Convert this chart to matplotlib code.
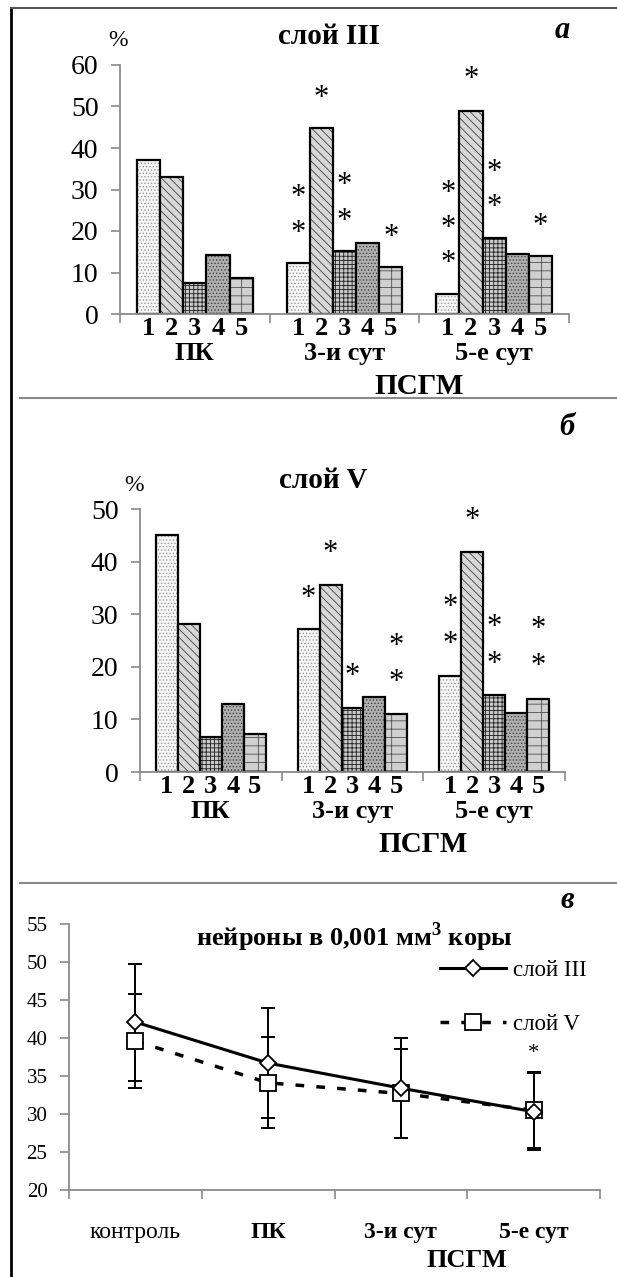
import numpy as np
import matplotlib
matplotlib.use('Agg')
import matplotlib.pyplot as plt
from matplotlib.lines import Line2D

plt.rcParams['font.family'] = ['Liberation Serif', 'DejaVu Serif']
plt.rcParams['mathtext.fontset'] = 'custom'
plt.rcParams['mathtext.bf'] = 'Liberation Serif:bold'
plt.rcParams['hatch.linewidth'] = 0.6

W, H = 617, 1277

# --- data ---
groups = ['ПК', '3-и сут', '5-е сут']
types = ['1', '2', '3', '4', '5']
layer3 = [[37.0, 33.0, 7.5, 14.3, 8.7],
          [12.2, 44.8, 15.1, 17.2, 11.3],
          [4.9, 49.0, 18.3, 14.5, 13.9]]
layer5 = [[45.1, 28.1, 6.7, 12.9, 7.3],
          [27.1, 35.6, 12.2, 14.2, 11.1],
          [18.3, 41.9, 14.6, 11.3, 13.9]]
# (group, bar, height of star)
stars3 = [(1, 0, 28.0), (1, 0, 19.5), (1, 1, 52.0), (1, 2, 30.9), (1, 2, 22.4), (1, 4, 18.5),
          (2, 0, 29.0), (2, 0, 20.5), (2, 0, 12.2), (2, 1, 56.5), (2, 2, 34.0), (2, 2, 25.6),
          (2, 4, 21.1)]
stars5 = [(1, 0, 32.9), (1, 1, 41.5), (1, 2, 18.2), (1, 4, 23.9), (1, 4, 17.0),
          (2, 0, 31.2), (2, 0, 24.2), (2, 1, 47.8), (2, 2, 27.4), (2, 2, 20.4),
          (2, 4, 27.1), (2, 4, 20.1)]

cats = ['контроль', 'ПК', '3-и сут', '5-е сут']
mean3 = [42.1, 36.7, 33.4, 30.3]
err3 = [7.7, 7.2, 6.6, 5.1]
mean5 = [39.6, 34.1, 32.7, 30.5]
err5 = [6.2, 6.0, 5.9, 5.0]
star_line = (3, 38.0)

# bar styles: (face, hatch colour, hatch)
styles = [('#f7f7f7', '#9a9a9a', '.....'),
          ('#d8d8d8', '#404040', '\\\\\\\\'),
          ('#c8c8c8', '#202020', '++++'),
          ('#b0b0b0', '#404040', '.....'),
          ('#d0d0d0', '#505050', '-|-')]

GRAY = '#8a8a8a'


def box(x0, y0, x1, y1):
    # pixel box -> figure rect
    return [x0 / W, 1 - y1 / H, (x1 - x0) / W, (y1 - y0) / H]


def ftext(x, y, s, **kw):
    fig.text(x / W, 1 - y / H, s, **kw)


def style_axis(ax):
    for s in ['top', 'right']:
        ax.spines[s].set_visible(False)
    for s in ['left', 'bottom']:
        ax.spines[s].set_color(GRAY)
        ax.spines[s].set_linewidth(1.3)
    ax.tick_params(axis='y', direction='out', length=6.5, width=1.2, color=GRAY, pad=9)
    ax.tick_params(axis='x', which='major', length=0)
    ax.tick_params(axis='x', which='minor', direction='out', length=6.5, width=1.2, color=GRAY)


def bar_panel(ax, data, stars, ymax, ystep):
    bw = 0.155
    for g, vals in enumerate(data):
        for i, v in enumerate(vals):
            x = g + 0.5 + (i - 2) * bw
            face, hc, hatch = styles[i]
            ax.bar(x, v, width=bw, color=face, edgecolor=hc, hatch=hatch, linewidth=0)
            ax.bar(x, v, width=bw, fill=False, edgecolor='black', linewidth=1.6)
    for g, i, y in stars:
        ax.text(g + 0.5 + (i - 2) * bw, y, '*', ha='center', va='center', fontsize=22)
    ax.set_xlim(0, 3)
    ax.set_ylim(0, ymax)
    ax.set_yticks(np.arange(0, ymax + 1, ystep))
    ax.tick_params(axis='y', labelsize=20)
    ax.set_xticks([g + 0.5 + (i - 2) * bw for g in range(3) for i in range(5)])
    ax.set_xticklabels(types * 3, fontsize=19, fontweight='bold')
    ax.set_xticks([0, 1, 2, 3], minor=True)
    style_axis(ax)
    ax.tick_params(axis='x', which='major', pad=2)
    for g, name in enumerate(groups):
        ax.annotate(name, xy=(g + 0.5, 0), xycoords=('data', 'axes fraction'),
                    xytext=(0, -28.5), textcoords='offset points', ha='center', va='center',
                    fontsize=19, fontweight='bold')
    ax.annotate('ПСГМ', xy=(2, 0), xycoords=('data', 'axes fraction'),
                xytext=(0, -52), textcoords='offset points', ha='center', va='center',
                fontsize=21, fontweight='bold')


fig = plt.figure(figsize=(W / 100, H / 100), dpi=100)

# frame lines
fig.add_artist(Line2D([11 / W, 11 / W], [0, 1 - 8 / H], color='black', lw=2))
fig.add_artist(Line2D([11 / W, 1], [1 - 8 / H, 1 - 8 / H], color='#555555', lw=1.5))
for yy in [398, 883]:
    fig.add_artist(Line2D([20 / W, 1], [1 - yy / H, 1 - yy / H], color=GRAY, lw=1.5))

# panel a
ax1 = fig.add_axes(box(120, 65, 569, 314))
bar_panel(ax1, layer3, stars3, 60, 10)
ftext(329, 36, 'слой III', ha='center', va='center', fontsize=21, fontweight='bold')
ftext(118, 40, '%', ha='center', va='center', fontsize=17)
ftext(562, 31, 'а', ha='center', va='center', fontsize=22, fontweight='bold', style='italic')

# panel b
ax2 = fig.add_axes(box(140, 509, 565, 772))
bar_panel(ax2, layer5, stars5, 50, 10)
ftext(323, 480, 'слой V', ha='center', va='center', fontsize=21, fontweight='bold')
ftext(134, 485, '%', ha='center', va='center', fontsize=17)
ftext(567, 428, 'б', ha='center', va='center', fontsize=22, fontweight='bold', style='italic')

# panel c
ax3 = fig.add_axes(box(69, 924, 600, 1190))
xs = np.arange(len(cats)) + 0.5
ax3.errorbar(xs, mean3, yerr=err3, fmt='none', capsize=5, elinewidth=1.4,
             capthick=1.4, ecolor='black', zorder=2)
ax3.errorbar(xs, mean5, yerr=err5, fmt='none', capsize=5, elinewidth=1.4,
             capthick=1.4, ecolor='black', zorder=2)
ax3.plot(xs, mean3, color='black', lw=2.2, marker='D', ms=8.5, mfc='white', mec='black',
         mew=1.3, label='слой III', zorder=4)
ax3.plot(xs, mean5, color='black', lw=2.5, ls=(0, (2.5, 3.5)), marker='s', ms=11,
         mfc='white', mec='black', mew=1.3, label='слой V', zorder=3)
ax3.text(xs[star_line[0]], star_line[1], '*', ha='center', va='center', fontsize=16)
ax3.set_xlim(0, 4)
ax3.set_ylim(20, 55)
ax3.set_yticks(np.arange(20, 56, 5))
ax3.tick_params(axis='y', labelsize=15)
ax3.set_xticks(xs)
ax3.set_xticklabels(cats, fontsize=17, fontweight='bold')
ax3.get_xticklabels()[0].set_fontweight('normal')
ax3.set_xticks([0, 1, 2, 3, 4], minor=True)
style_axis(ax3)
ax3.tick_params(axis='x', which='major', pad=23)
ax3.annotate('ПСГМ', xy=(3, 0), xycoords=('data', 'axes fraction'),
             xytext=(0, -51), textcoords='offset points', ha='center', va='center',
             fontsize=19, fontweight='bold')
leg = ax3.legend(loc='upper left', bbox_to_anchor=(440 / W, 1 - 960 / H),
                 bbox_transform=fig.transFigure, frameon=False, borderaxespad=0,
                 borderpad=0, fontsize=16.5, handlelength=2.9, labelspacing=1.45,
                 handletextpad=0.3)
ftext(354, 937, 'нейроны в 0,001 мм$^\\mathbf{3}$ коры', ha='center', va='center',
      fontsize=19, fontweight='bold')
ftext(567, 900, 'в', ha='center', va='center', fontsize=22, fontweight='bold', style='italic')

fig.savefig('out.png', dpi=100)
